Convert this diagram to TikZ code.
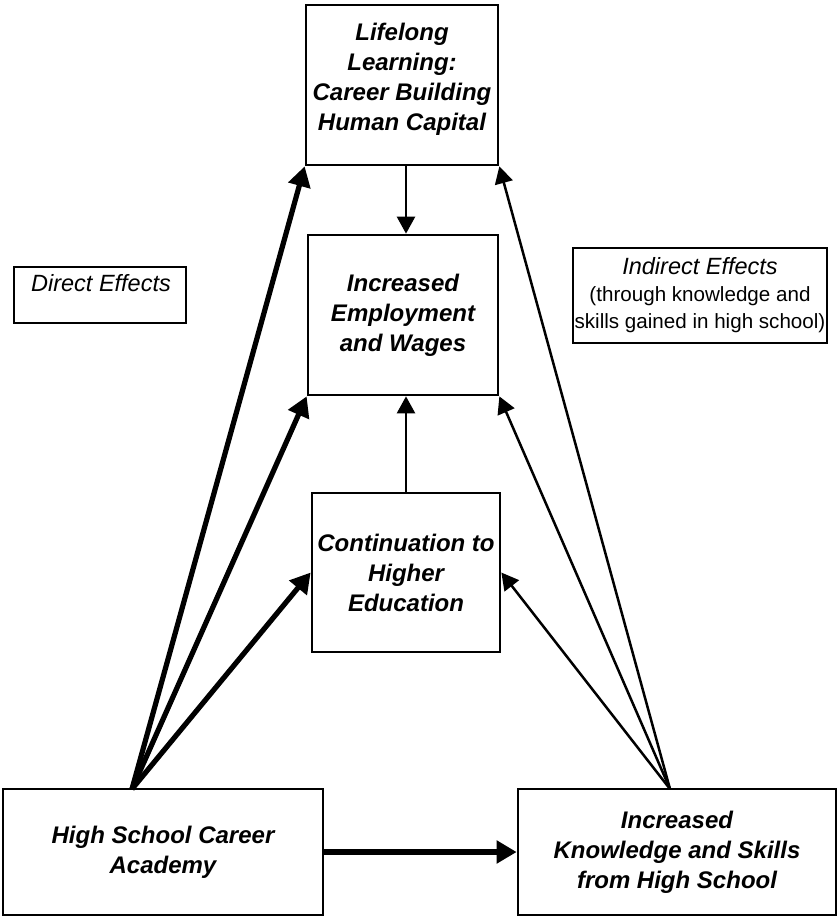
\documentclass[tikz,border=0pt]{standalone}
\usepackage{fontspec}
\setmainfont{Liberation Sans}
\usetikzlibrary{arrows.meta,calc}
\begin{document}
\begin{tikzpicture}[x=1pt,y=-1pt,
 box/.style={draw,line width=2.7pt,rectangle,inner sep=0pt},
 lbl/.style={align=center,font=\fontsize{24}{30}\selectfont\bfseries\itshape},
 thickarrow/.style={line width=5.2pt,-{Triangle[length=20pt,width=22pt]}},
 thinarrow/.style={line width=2.5pt,-{Triangle[length=17pt,width=18pt]}},
]
\useasboundingbox[fill=white] (0,0) rectangle (838,917);
% boxes
\node[box,minimum width=192pt,minimum height=160pt] (life) at (402,85) {};
\node[lbl] (lifeT) at (402,79) {Lifelong\\Learning:\\Career Building\\Human Capital};
\node[box,lbl,minimum width=190pt,minimum height=160pt] (emp) at (403,315) {Increased\\Employment\\and Wages};
\node[box,lbl,minimum width=188pt,minimum height=159pt] (cont) at (406,572.5) {Continuation to\\Higher\\Education};
\node[box,lbl,minimum width=320pt,minimum height=126pt] (acad) at (163,852) {High School Career\\Academy};
\node[box,lbl,minimum width=318pt,minimum height=126pt] (know) at (677,852) {Increased\\Knowledge and Skills\\from High School};
% legend boxes
\node[box,line width=2.2pt,minimum width=172pt,minimum height=56pt] (direct) at (100,295) {};
\node[font=\fontsize{23.5}{28}\selectfont\itshape] (directT) at (101,283) {Direct Effects};
\node[box,line width=2.2pt,minimum width=254pt,minimum height=95pt,align=center,font=\fontsize{20.6}{27}\selectfont] (indirect) at (700,295.5) {{\fontsize{23.5}{27}\selectfont\itshape Indirect Effects}\\(through knowledge and\\skills gained in high school)};
% connectors
\coordinate (aTop) at (132,789);
\coordinate (kTop) at (670,789);
\draw[thickarrow] (aTop) -- (life.south west);
\draw[thickarrow] (aTop) -- (emp.south west);
\draw[thickarrow] (aTop) -- (cont.west);
\draw[thinarrow] (kTop) -- (life.south east);
\draw[thinarrow] (kTop) -- (emp.south east);
\draw[thinarrow] (kTop) -- (cont.east);
\draw[thickarrow] (acad.east) -- (know.west);
\draw[thinarrow] (cont.north |- life.south) -- (cont.north |- emp.north);
\draw[thinarrow] (cont.north) -- (cont.north |- emp.south);
\end{tikzpicture}
\end{document}
